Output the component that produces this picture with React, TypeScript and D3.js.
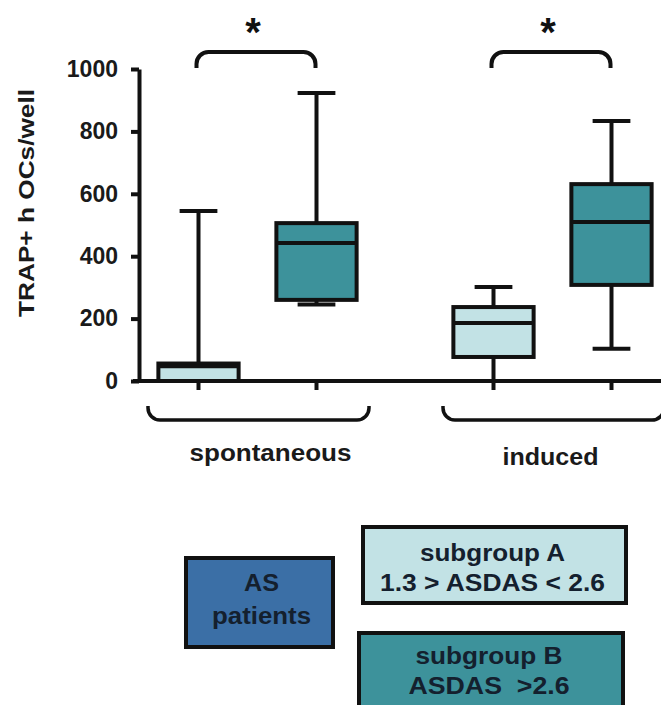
import React, { useEffect, useRef } from "react";
import * as d3 from "d3";

// boxes, in order: spontaneous A, spontaneous B, induced A, induced B
const groups = ["spontaneous", "induced"];
const subgroups = ["A", "B"];
const whiskerLow = [0, 245, 0, 103];
const q1 = [0, 260, 77, 308];
const median = [47, 442, 186, 510];
const q3 = [56, 506, 237, 631];
const whiskerHigh = [545, 923, 301, 833];
const yTicks = [0, 200, 400, 600, 800, 1000];
const yLabel = "TRAP+ h OCs/well";

const FONT = "'Liberation Sans', Arial, sans-serif";
const LIGHT = "#c2e2e5";
const TEAL = "#3d929b";
const NAVY = "#3b6fa6";

const W = 661;
const H = 705;

function App() {
  const ref = useRef<SVGSVGElement | null>(null);

  useEffect(() => {
    const svg = d3.select(ref.current);
    svg.selectAll("*").remove();

    const y = d3.scaleLinear().domain([0, 1000]).range([381, 69]);
    const xg = d3.scaleBand().domain(groups).range([110, 700]).padding(0);
    const xs = d3
      .scaleBand()
      .domain(subgroups)
      .range([0, xg.bandwidth()])
      .paddingInner(0)
      .paddingOuter(0.25);

    const boxes = groups.flatMap((g, gi) =>
      subgroups.map((s, si) => {
        const i = gi * 2 + si;
        return {
          g,
          s,
          cx: xg(g)! + xs(s)! + xs.bandwidth() / 2,
          lo: whiskerLow[i],
          q1: q1[i],
          med: median[i],
          q3: q3[i],
          hi: whiskerHigh[i],
        };
      })
    );
    const boxW = xs.bandwidth() * 0.68;
    const capW = xs.bandwidth() * 0.32;
    const sw = 4;

    // boxes
    const b = svg.append("g").attr("stroke", "#111").attr("stroke-width", sw);
    boxes.forEach((d) => {
      b.append("line")
        .attr("x1", d.cx).attr("x2", d.cx)
        .attr("y1", y(d.q3)).attr("y2", y(d.hi));
      b.append("line")
        .attr("x1", d.cx - capW / 2).attr("x2", d.cx + capW / 2)
        .attr("y1", y(d.hi)).attr("y2", y(d.hi));
      b.append("line")
        .attr("x1", d.cx).attr("x2", d.cx)
        .attr("y1", y(d.q1)).attr("y2", y(d.lo));
      b.append("line")
        .attr("x1", d.cx - capW / 2).attr("x2", d.cx + capW / 2)
        .attr("y1", y(d.lo)).attr("y2", y(d.lo));
      b.append("rect")
        .attr("x", d.cx - boxW / 2)
        .attr("y", y(d.q3))
        .attr("width", boxW)
        .attr("height", y(d.q1) - y(d.q3))
        .attr("fill", d.s === "A" ? LIGHT : TEAL);
      b.append("line")
        .attr("x1", d.cx - boxW / 2).attr("x2", d.cx + boxW / 2)
        .attr("y1", y(d.med)).attr("y2", y(d.med));
    });

    // y axis
    const ya = svg
      .append("g")
      .attr("transform", "translate(139,0)")
      .call(
        d3.axisLeft(y)
          .tickValues(yTicks)
          .tickFormat(d3.format("d"))
          .tickSize(8)
          .tickSizeOuter(0)
          .tickPadding(13)
      );
    ya.selectAll("path, line").attr("stroke", "#111").attr("stroke-width", sw);
    ya.selectAll("text")
      .attr("font-family", FONT)
      .attr("font-weight", "bold")
      .attr("font-size", 23)
      .attr("fill", "#1a1a1a");

    // x axis
    svg.append("line")
      .attr("x1", 133).attr("x2", W)
      .attr("y1", y(0)).attr("y2", y(0))
      .attr("stroke", "#111").attr("stroke-width", sw);
    svg.append("g")
      .selectAll("line")
      .data(boxes)
      .join("line")
      .attr("x1", (d) => d.cx).attr("x2", (d) => d.cx)
      .attr("y1", y(0)).attr("y2", y(0) + 9)
      .attr("stroke", "#111").attr("stroke-width", sw);

    svg.append("text")
      .attr("transform", "translate(34,203) rotate(-90)")
      .attr("text-anchor", "middle")
      .attr("font-family", FONT)
      .attr("font-weight", "bold")
      .attr("font-size", 22)
      .attr("textLength", 228)
      .attr("lengthAdjust", "spacingAndGlyphs")
      .attr("fill", "#1a1a1a")
      .text(yLabel);

    // significance brackets
    const r = 12;
    groups.forEach((g, gi) => {
      const x0 = boxes[gi * 2].cx - 2;
      const x1 = boxes[gi * 2 + 1].cx - 1;
      const top = 52;
      const end = 68;
      const p = d3.path();
      p.moveTo(x0, end);
      p.lineTo(x0, top + r);
      p.arcTo(x0, top, x0 + r, top, r);
      p.lineTo(x1 - r, top);
      p.arcTo(x1, top, x1, top + r, r);
      p.lineTo(x1, end);
      svg.append("path")
        .attr("d", p.toString())
        .attr("fill", "none")
        .attr("stroke", "#111")
        .attr("stroke-width", sw);
      svg.append("text")
        .attr("x", (x0 + x1) / 2 - 3)
        .attr("y", 46)
        .attr("text-anchor", "middle")
        .attr("font-family", FONT)
        .attr("font-weight", "bold")
        .attr("font-size", 40)
        .attr("fill", "#111")
        .text("*");

      // group brace under the axis
      const bx0 = xg(g)! + 38;
      const bx1 = xg(g)! + xg.bandwidth() - 36;
      const bTop = 406;
      const bBot = 420;
      const q = d3.path();
      q.moveTo(bx0, bTop);
      q.arcTo(bx0, bBot, bx0 + r, bBot, r);
      q.lineTo(bx1 - r, bBot);
      q.arcTo(bx1, bBot, bx1, bBot - r, r);
      q.lineTo(bx1, bTop);
      svg.append("path")
        .attr("d", q.toString())
        .attr("fill", "none")
        .attr("stroke", "#111")
        .attr("stroke-width", 3.5);
      const cx = xg(g)! + xg.bandwidth() / 2 + (gi === 0 ? 13 : -2);
      svg.append("text")
        .attr("x", cx)
        .attr("y", gi === 0 ? 461 : 465)
        .attr("text-anchor", "middle")
        .attr("font-family", FONT)
        .attr("font-weight", "bold")
        .attr("font-size", 23)
        .attr("textLength", gi === 0 ? 162 : 96)
        .attr("lengthAdjust", "spacingAndGlyphs")
        .attr("fill", "#1a1a1a")
        .text(g);
    });

    // legend
    const legend = [
      { x: 186, y: 558, w: 147, h: 89, fill: NAVY, lines: ["AS", "patients"], base: [591, 624], len: [35, 99] },
      { x: 363, y: 527, w: 263, h: 76, fill: LIGHT, lines: ["subgroup A", "1.3 > ASDAS < 2.6"], base: [561, 591], len: [145, 225] },
      { x: 359, y: 633, w: 264, h: 90, fill: TEAL, lines: ["subgroup B", "ASDAS  >2.6"], base: [664, 694], len: [147, 161] },
    ];
    legend.forEach((l) => {
      svg.append("rect")
        .attr("x", l.x).attr("y", l.y)
        .attr("width", l.w).attr("height", l.h)
        .attr("fill", l.fill)
        .attr("stroke", "#111")
        .attr("stroke-width", 4);
      l.lines.forEach((t, k) => {
        svg.append("text")
          .attr("x", l.x + l.w / 2 + (l.fill === NAVY ? 2 : -2))
          .attr("y", l.base[k])
          .attr("text-anchor", "middle")
          .attr("font-family", FONT)
          .attr("font-weight", "bold")
          .attr("font-size", 23)
          .attr("textLength", l.len[k])
          .attr("lengthAdjust", "spacingAndGlyphs")
          .attr("fill", "#14202e")
          .style("white-space", "pre")
          .text(t);
      });
    });
  }, []);

  return (
    <svg
      ref={ref}
      width={W}
      height={H}
      style={{ position: "absolute", left: 0, top: 0, background: "#fff" }}
    />
  );
}

export default App;
